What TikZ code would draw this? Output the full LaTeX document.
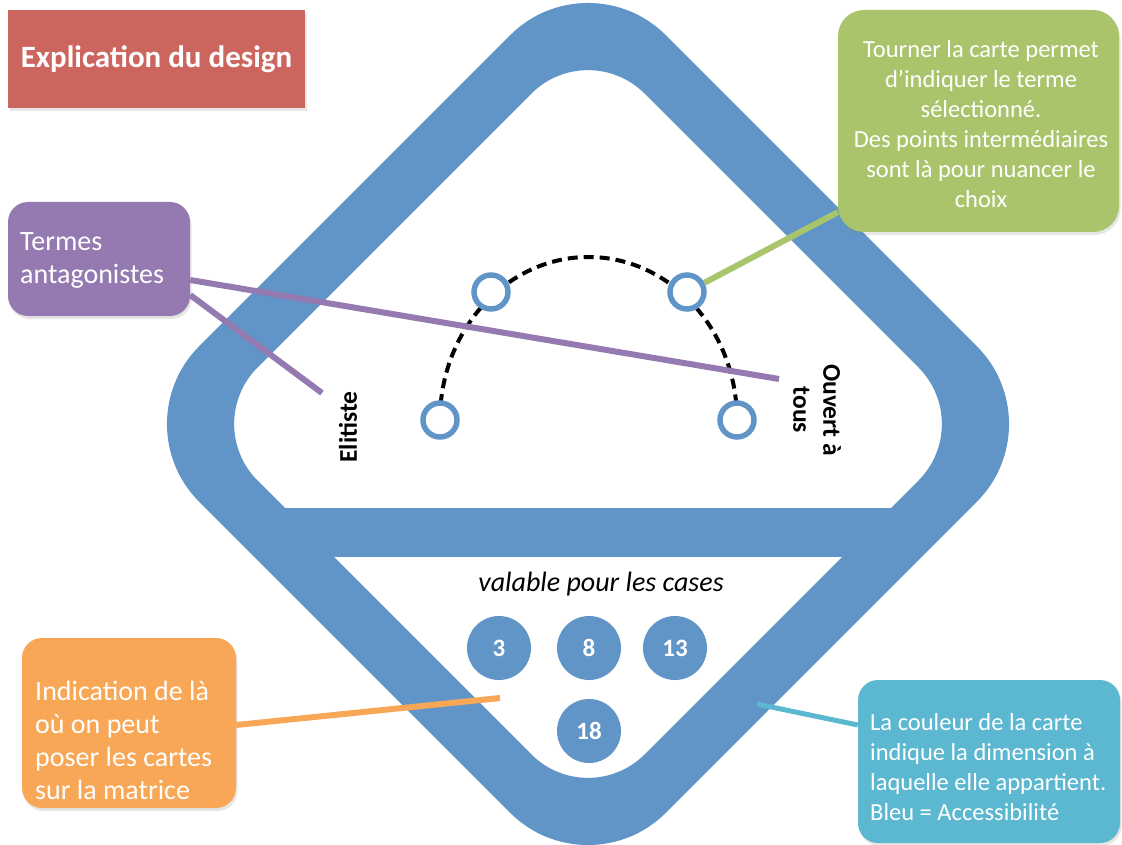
\documentclass[tikz,border=0pt]{standalone}
\usepackage{fontspec}
\setmainfont{Carlito}
\usetikzlibrary{calc,shadows}
\definecolor{cardblue}{RGB}{97,149,199}
\definecolor{titlered}{RGB}{205,101,95}
\definecolor{termpurple}{RGB}{149,122,177}
\definecolor{notegreen}{RGB}{170,196,108}
\definecolor{noteorange}{RGB}{248,167,86}
\definecolor{notecyan}{RGB}{92,183,208}
\begin{document}
\begin{tikzpicture}[x=1pt,y=-1pt,
  softshadow/.style={drop shadow={opacity=0.2,shadow xshift=1.5pt,shadow yshift=-3pt}},
  callout/.style={rectangle,rounded corners=20pt,inner sep=0pt,softshadow},
  ctext/.style={text=white,inner sep=0pt,align=left,anchor=west},
  ring/.style={circle,draw=cardblue,line width=5.5pt,fill=white,minimum size=34pt,inner sep=0pt},
  num/.style={circle,fill=cardblue,minimum size=64pt,inner sep=0pt,text=white,font=\bfseries\fontsize{25pt}{28pt}\selectfont},
  lbl/.style={font=\bfseries\fontsize{25.5pt}{30pt}\selectfont,inner sep=0pt},
  dasharc/.style={black,line width=4pt,dash pattern=on 10pt off 6pt},
  conn/.style={line width=6pt}]
\useasboundingbox (0,0) rectangle (1122,845);
\clip (0,0) rectangle (1122,845);

% card outline (rounded diamond band)
\fill[cardblue,even odd rule]
  [rounded corners=110pt] (354.7,190.7) -- (588,-42.6) -- (1054.6,424) -- (588,890.6) -- (121.4,424) -- cycle
  [rounded corners=80pt] (394.5,230.5) -- (588,37) -- (975,424) -- (588,811) -- (201,424) -- cycle;
% horizontal bar
\fill[cardblue] (275,508) rectangle (899,557);

% dashed arc with positions
\coordinate (p1) at (440,420);
\coordinate (p2) at (491,292);
\coordinate (p3) at (687,292);
\coordinate (p4) at (737,420);
\draw[dasharc] (p1) arc[start angle=180,end angle=0,x radius=148.5pt,y radius=163pt];
\node[ring] (c1) at (p1) {};
\node[ring] (c2) at (p2) {};
\node[ring] (c3) at (p3) {};
\node[ring] (c4) at (p4) {};

% term labels
\node[lbl,rotate=90] (elit) at (348,427) {Elitiste};
\node[lbl,rotate=-90,align=center] (ouv) at (817,410) {Ouvert à\\tous};

% cases
\node[font=\itshape\fontsize{28pt}{32pt}\selectfont,inner sep=0pt] (val) at (601,584) {valable pour les cases};
\node[num] (n3) at (499,648) {3};
\node[num] (n8) at (589,648) {8};
\node[num] (n13) at (675,648) {13};
\node[num] (n18) at (589,731) {18};

% title
\node[rectangle,fill=titlered,minimum width=297pt,minimum height=98pt,inner sep=0pt,softshadow,
      text=white,font=\bfseries\fontsize{31pt}{36pt}\selectfont] (title) at (156.5,59) {Explication du design};

% callout boxes
\node[callout,fill=termpurple,minimum width=182pt,minimum height=114pt] (terms) at (99,259) {};
\node[ctext,font=\fontsize{28pt}{33pt}\selectfont] (termst) at (20,260) {Termes\\antagonistes};

\node[callout,fill=notegreen,minimum width=281pt,minimum height=222pt,rounded corners=26pt] (turn) at (978.5,121) {};
\node[text=white,inner sep=0pt,align=center,font=\fontsize{24.5pt}{30pt}\selectfont] (turnt) at (981,124)
  {Tourner la carte permet\\d’indiquer le terme\\sélectionné.\\Des points intermédiaires\\sont là pour nuancer le\\choix};

\node[callout,fill=noteorange,minimum width=214pt,minimum height=170pt] (place) at (129,723) {};
\node[ctext,font=\fontsize{28pt}{33pt}\selectfont] (placet) at (35,740) {Indication de là\\où on peut\\poser les cartes\\sur la matrice};

\node[callout,fill=notecyan,minimum width=262pt,minimum height=163pt] (colour) at (989,761.5) {};
\node[ctext,font=\fontsize{24.5pt}{30pt}\selectfont] (colourt) at (870,767) {La couleur de la carte\\indique la dimension à\\laquelle elle appartient.\\Bleu = Accessibilité};

% connectors
\coordinate (pe1) at (779,379);
\coordinate (pe2) at (322,393);
\coordinate (pe3) at (500,698);
\coordinate (pe4) at (757,704);
\draw[conn,termpurple] ($(terms.east)+(0,21)$) -- (pe1);
\draw[conn,termpurple] ($(terms.east)+(0,36)$) -- (pe2);
\draw[conn,notegreen] ($(turn.south west)+(0,-20)$) -- (c3);
\draw[conn,noteorange] ($(place.east)+(0,2)$) -- (pe3);
\draw[line width=5pt,notecyan] ($(colour.west)+(0,-36.5)$) -- (pe4);
\end{tikzpicture}
\end{document}
